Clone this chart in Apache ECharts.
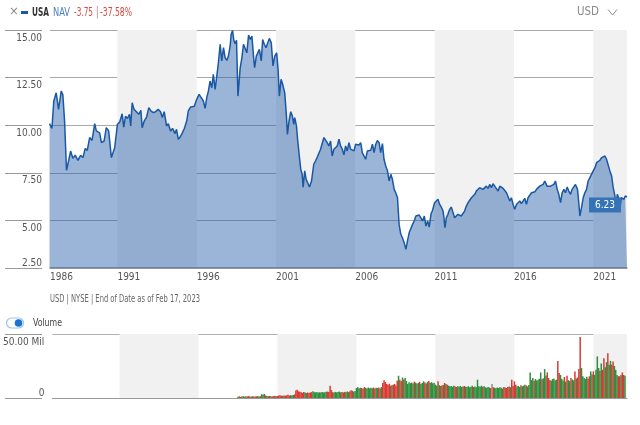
<!DOCTYPE html>
<html><head><meta charset="utf-8">
<script src="https://cdn.jsdelivr.net/npm/echarts@6/dist/echarts.min.js"></script>
<style>html,body{margin:0;padding:0;background:#fff}#c{width:640px;height:425px}</style>
</head><body><div id="c"></div>
<script>
// ---------- DATA ----------
const navYears = [
1986.72,1986.87,1986.99,1987.14,1987.29,1987.46,1987.56,1987.67,1987.79,1987.92,
1988.05,1988.19,1988.34,1988.51,1988.68,1988.83,1988.97,1989.10,1989.25,1989.40,
1989.57,1989.67,1989.78,1989.88,1989.99,1990.16,1990.30,1990.45,1990.62,1990.73,
1990.83,1991.00,1991.15,1991.30,1991.40,1991.51,1991.63,1991.76,1991.84,1991.93,
1992.05,1992.20,1992.35,1992.48,1992.56,1992.69,1992.84,1992.98,1993.11,1993.26,
1993.41,1993.57,1993.72,1993.83,1993.95,1994.10,1994.21,1994.35,1994.48,1994.63,
1994.73,1994.84,1994.95,1995.05,1995.22,1995.37,1995.47,1995.62,1995.73,1995.85,
1996.00,1996.15,1996.27,1996.42,1996.53,1996.63,1996.74,1996.84,1996.95,1997.05,
1997.16,1997.27,1997.37,1997.48,1997.58,1997.69,1997.79,1997.90,1998.00,1998.11,
1998.17,1998.26,1998.34,1998.43,1998.51,1998.60,1998.74,1998.85,1998.95,1999.06,
1999.16,1999.27,1999.38,1999.48,1999.59,1999.65,1999.76,1999.86,1999.95,2000.07,
2000.16,2000.26,2000.37,2000.45,2000.58,2000.70,2000.81,2000.92,2001.04,2001.13,
2001.21,2001.32,2001.42,2001.55,2001.65,2001.72,2001.82,2001.93,2002.03,2002.12,
2002.18,2002.29,2002.37,2002.48,2002.56,2002.65,2002.71,2002.81,2002.90,2002.98,
2003.11,2003.24,2003.38,2003.49,2003.59,2003.70,2003.81,2003.91,2004.02,2004.12,
2004.23,2004.33,2004.44,2004.54,2004.65,2004.76,2004.86,2004.97,2005.07,2005.18,
2005.28,2005.39,2005.49,2005.60,2005.70,2005.81,2005.92,2006.02,2006.13,2006.23,
2006.34,2006.44,2006.55,2006.65,2006.76,2006.86,2006.97,2007.08,2007.18,2007.29,
2007.39,2007.50,2007.60,2007.71,2007.81,2007.92,2008.03,2008.13,2008.24,2008.34,
2008.45,2008.55,2008.66,2008.76,2008.87,2008.97,2009.08,2009.19,2009.29,2009.40,
2009.50,2009.61,2009.71,2009.82,2009.92,2010.03,2010.14,2010.24,2010.35,2010.45,
2010.56,2010.66,2010.77,2010.87,2011.00,2011.11,2011.21,2011.32,2011.42,2011.53,
2011.59,2011.65,2011.74,2011.84,2011.95,2012.05,2012.16,2012.26,2012.37,2012.47,
2012.58,2012.68,2012.79,2012.89,2013.00,2013.11,2013.21,2013.32,2013.42,2013.53,
2013.63,2013.74,2013.84,2013.95,2014.05,2014.16,2014.26,2014.37,2014.47,2014.58,
2014.68,2014.79,2014.89,2015.00,2015.11,2015.21,2015.32,2015.42,2015.53,2015.63,
2015.74,2015.84,2015.95,2016.05,2016.16,2016.26,2016.37,2016.47,2016.58,2016.68,
2016.79,2016.89,2017.00,2017.11,2017.21,2017.32,2017.42,2017.53,2017.63,2017.74,
2017.84,2017.95,2018.01,2018.09,2018.20,2018.31,2018.41,2018.52,2018.62,2018.73,
2018.83,2018.94,2019.04,2019.15,2019.25,2019.36,2019.46,2019.57,2019.67,2019.78,
2019.88,2019.95,2020.01,2020.07,2020.16,2020.26,2020.37,2020.47,2020.58,2020.68,
2020.79,2020.89,2021.00,2021.11,2021.21,2021.32,2021.42,2021.53,2021.63,2021.74,
2021.84,2021.95,2022.05,2022.16,2022.26,2022.37,2022.43,2022.52,2022.60,2022.68,
2022.77,2022.85,2022.94,2023.02,2023.13
];
const navValues = [
10.08,9.83,11.27,11.70,10.83,11.80,11.60,10.20,7.63,8.12,
8.64,8.26,8.43,8.15,8.42,8.30,8.78,8.68,9.35,9.20,
10.08,9.70,9.78,9.60,9.08,9.17,9.87,9.70,8.30,8.26,
8.82,10.04,10.18,10.60,9.90,10.47,10.35,10.57,9.96,11.18,
10.83,10.71,10.57,10.78,9.87,10.22,10.43,10.92,10.75,10.66,
10.71,10.83,10.71,10.40,10.71,9.96,10.08,9.70,9.83,9.56,
9.78,9.26,9.38,9.52,9.83,10.22,10.75,10.96,11.06,11.00,
11.36,11.62,11.58,11.27,10.88,11.44,11.80,12.32,11.97,12.67,
11.88,12.60,13.30,14.25,13.38,14.08,13.55,13.40,13.63,14.16,
14.77,14.98,14.46,14.28,14.46,11.53,13.00,13.55,14.25,14.16,
13.80,14.73,14.50,14.68,13.55,13.02,13.63,13.55,13.98,13.38,
14.50,14.25,14.07,14.16,14.56,14.33,13.11,13.63,13.80,12.93,
11.53,12.41,12.15,11.70,10.57,9.52,10.22,10.71,10.48,10.04,
10.40,9.96,9.17,8.30,7.68,7.42,6.75,7.60,7.16,7.25,
6.75,7.07,7.95,8.12,8.30,8.21,8.74,8.68,9.35,9.26,
9.08,8.91,9.17,8.38,8.74,8.82,8.91,9.26,8.91,8.74,
8.44,8.91,8.65,9.08,8.74,8.82,8.65,9.00,9.08,8.96,
9.08,8.56,8.38,8.21,8.65,8.74,8.68,9.00,8.56,9.00,
9.20,9.08,8.56,9.03,8.21,7.86,7.60,7.07,7.42,7.16,
6.63,6.45,6.19,4.79,4.27,4.09,3.83,3.48,3.92,4.36,
4.44,4.79,4.97,5.23,5.14,5.28,5.35,4.97,5.23,4.70,
4.97,4.65,5.32,5.53,5.93,6.02,6.11,5.84,5.70,5.49,
5.14,4.62,5.14,5.32,5.58,5.70,5.67,5.14,5.23,5.32,
5.40,5.23,5.32,5.49,5.75,5.93,6.02,6.19,6.11,6.37,
6.54,6.45,6.72,6.75,6.63,6.72,6.80,6.68,6.89,6.72,
6.93,6.80,6.85,6.54,6.80,6.72,6.68,6.63,6.45,6.37,
6.02,6.19,5.84,5.58,5.84,5.93,6.02,5.88,6.02,6.16,
5.84,6.19,6.23,6.45,6.54,6.50,6.63,6.58,6.80,6.72,
6.89,7.07,7.16,6.80,6.72,6.80,6.75,6.89,7.07,6.63,
6.37,5.93,6.45,6.63,6.45,6.75,6.54,6.37,6.63,6.54,
6.89,6.98,6.63,6.11,5.23,5.67,6.19,6.45,6.63,7.07,
7.25,7.33,7.60,7.77,8.03,8.12,8.16,8.30,8.26,8.38,
8.21,8.12,7.60,7.33,6.72,6.28,5.75,6.37,6.19,5.58,
6.19,6.28,6.11,6.28,6.23
];

// monthly volume (millions), starting Jul 1998
const volStartYear = 1998, volStartMonth = 7;
const volValues = [
1.0,1.3,0.8,1.1,1.4,1.0,
1.3,1.1,1.5,1.2,1.0,1.4,1.2,1.1,1.3,1.5,1.2,1.4,
3.0,2.6,3.2,2.0,1.6,1.4,1.6,1.3,1.2,1.5,1.7,1.4,
1.6,1.9,2.2,1.8,1.7,2.0,1.8,2.1,2.6,1.9,2.2,2.0,
2.4,2.8,5.8,6.5,5.2,4.8,4.4,4.0,4.6,4.2,3.9,4.3,
4.0,4.3,4.6,5.2,4.5,4.4,4.7,4.2,4.5,4.3,4.6,4.4,
4.5,4.8,5.0,4.6,9.6,6.2,4.5,4.2,4.8,4.4,4.6,5.0,
4.4,4.7,4.3,4.8,4.5,5.0,4.6,5.2,6.0,5.6,4.8,5.4,
7.8,8.4,7.6,8.0,7.8,7.2,8.6,7.9,7.5,8.2,7.6,8.0,
7.6,8.2,7.4,8.0,7.8,8.3,7.5,8.6,11.8,13.8,12.5,11.0,
10.4,11.2,9.6,10.0,10.4,11.0,9.8,13.4,17.4,14.3,13.0,16.0,
14.5,15.6,13.2,11.0,12.4,11.6,12.0,11.4,12.8,12.0,11.2,11.8,
12.6,11.0,11.8,13.0,12.2,11.4,12.6,13.2,11.8,12.4,11.6,12.0,
10.4,9.6,13.0,10.0,9.4,9.8,10.2,11.7,11.0,10.4,9.6,9.2,
9.4,8.8,9.6,9.0,8.6,9.2,8.8,9.4,8.6,9.0,9.4,8.8,
8.6,9.2,8.4,8.8,9.6,8.6,9.0,8.4,14.3,9.2,8.8,9.6,
8.8,9.2,8.4,8.0,8.6,8.2,7.8,11.0,8.4,8.0,7.6,8.2,
7.8,8.4,8.0,7.4,8.6,8.2,7.8,8.6,9.0,8.4,14.3,9.4,
13.0,10.4,9.0,9.4,8.6,10.0,9.2,9.6,10.4,9.8,9.0,10.2,
20.0,14.0,15.6,13.4,14.8,13.6,14.2,15.0,20.0,14.6,15.4,22.6,
17.6,20.0,15.6,14.0,13.4,14.8,15.2,13.8,14.4,29.0,19.5,18.0,
15.0,13.6,16.4,12.8,17.4,14.0,13.2,15.6,14.4,13.8,20.8,15.2,
16.0,22.6,47.6,23.4,17.0,15.6,14.8,16.6,15.0,17.0,20.8,18.4,
20.8,18.0,22.0,32.5,23.4,21.0,27.0,22.0,31.0,24.0,28.0,35.0,
26.0,29.0,26.0,28.6,25.0,22.0,18.0,17.0,17.0,18.0,20.0,18.0,
17.4
];
// u = up (green), d = down (red), n = unchanged (grey); one string per year
const volDirs = [
'dudduu','udduddudduud','uuududduddud','dddduddddduu','udddddddduud',
'ddduuuuuuuuu','uuddddduuuuu','dudduuuddduu','uuuuddduuuuu','udduuddudddd',
'dddudddduddu','duuuuuuuduuu','duuudduduuuu','uudududduduu','uuudduuuudud',
'uuuuuduuuuuu','duuuuudnduuu','uuududdddudd','dduuuduuuduu','uuuduuuuuduu',
'uddduuuuuddu','uududuuduudu','ddduuuuudduu','duuuududduud','uudduuuddudd','u'
];

const xMin = 1986.75, xMax = 2023.13;
const xLabelValues = [1986.75, 1991, 1996, 2001, 2006, 2011, 2016, 2021];
const bandRanges = [[1991, 1996], [2001, 2006], [2011, 2016], [2021, 2023.13]];
const priceTicks = {min: 2.5, max: 15, interval: 2.5};
const volTicks = {min: 0, max: 50, interval: 50};
const headerTicker = 'USA', headerField = 'NAV', headerChange = '-3.75', headerPct = '-37.58%';
const footnote = 'USD | NYSE | End of Date as of Feb 17, 2023';

// ---------- FONT PICK ----------
const ctx = document.createElement('canvas').getContext('2d');
function hasFont(f) {
  const s = 'USD | NYSE | End of Date 0123456789 Mil';
  ctx.font = '20px monospace'; const a = ctx.measureText(s).width;
  ctx.font = "20px '" + f + "', monospace"; const b = ctx.measureText(s).width;
  return Math.abs(a - b) > 0.5;
}
const fontCandidates = ['Liberation Sans Narrow', 'DejaVu Sans Condensed', 'Roboto Condensed', 'Arial Narrow', 'Roboto'];
const chosen = fontCandidates.find(hasFont) || 'Roboto';
const FONT = "'" + chosen + "', Roboto, sans-serif";
function fit(text, font, w) {
  ctx.font = font; const m = ctx.measureText(text).width;
  return Math.min(1, w / m);
}
function txt(text, x, y, w, font, fill) {
  return {type: 'text', x: x, y: y, scaleX: w ? fit(text, font, w) : 1,
    style: {text: text, font: font, fill: fill, align: 'left', verticalAlign: 'middle'}};
}

// ---------- CHART ----------
const navData = navYears.map((y, i) => [y, navValues[i]]);
const dirs = volDirs.join('').split('');
const dirColor = {u: '#2f8f3e', d: '#d83a34', n: '#8c8c8c'};
const volData = volValues.map((v, i) => {
  const m = volStartMonth - 1 + i;
  return {value: [volStartYear + m / 12, v], itemStyle: {color: dirColor[dirs[i]]}};
});
const bandData = bandRanges.map(r => [{xAxis: r[0]}, {xAxis: r[1]}]);
const lastIdx = navYears.length - 1;

const chart = echarts.init(document.getElementById('c'), null, {renderer: 'canvas'});
const xBase = {type: 'value', min: xMin, max: xMax, splitLine: {show: false}, axisTick: {show: false}, z: 1};
const hf = '12px ' + FONT, hb = 'bold 12px ' + FONT;
const option = {
  animation: false,
  textStyle: {fontFamily: FONT},
  grid: [
    {left: 50, right: 13, top: 30, height: 238},
    {left: 50, right: 13, top: 334, height: 64},
    {left: 5, width: 37, top: 30, height: 238},
    {left: 5, width: 37, top: 334, height: 64}
  ],
  xAxis: [
    Object.assign({}, xBase, {gridIndex: 0,
      axisLine: {show: true, lineStyle: {color: '#8a8f96', width: 1.5}},
      axisLabel: {customValues: xLabelValues, formatter: v => String(Math.floor(v + 0.001)),
        align: 'left', margin: 4, color: '#555', fontSize: 10, fontFamily: FONT}}),
    Object.assign({}, xBase, {gridIndex: 1,
      axisLine: {show: true, lineStyle: {color: '#999', width: 1}}, axisLabel: {show: false}}),
    {gridIndex: 2, type: 'value', min: 0, max: 1, show: false},
    {gridIndex: 3, type: 'value', min: 0, max: 1, show: false}
  ],
  yAxis: [
    Object.assign({gridIndex: 0, type: 'value', z: 1, axisLine: {show: false}, axisTick: {show: false},
      splitLine: {lineStyle: {color: '#a9a9a9'}},
      axisLabel: {formatter: v => v.toFixed(2), color: '#555', fontSize: 10, margin: 8, fontFamily: FONT,
        verticalAlign: 'top', verticalAlignMinLabel: 'bottom', padding: [3, 0, 0, 0]}}, priceTicks),
    Object.assign({gridIndex: 1, type: 'value', z: 1, axisLine: {show: false}, axisTick: {show: false},
      splitLine: {lineStyle: {color: '#b0b0b0'}},
      axisLabel: {formatter: v => v === 0 ? '0' : v.toFixed(2) + ' Mil', color: '#555', fontSize: 10, margin: 8,
        fontFamily: FONT, verticalAlign: 'top', verticalAlignMinLabel: 'bottom', padding: [3, 0, 0, 0]}}, volTicks),
    Object.assign({gridIndex: 2, type: 'value', axisLine: {show: false}, axisTick: {show: false}, axisLabel: {show: false},
      splitLine: {lineStyle: {color: '#999'}}}, priceTicks),
    Object.assign({gridIndex: 3, type: 'value', axisLine: {show: false}, axisTick: {show: false}, axisLabel: {show: false},
      splitLine: {lineStyle: {color: '#999'}}}, volTicks)
  ],
  series: [
    {type: 'line', xAxisIndex: 0, yAxisIndex: 0, data: [], z: 0, silent: true,
      markArea: {silent: true, itemStyle: {color: '#f1f1f1'}, data: bandData}},
    {type: 'line', xAxisIndex: 1, yAxisIndex: 1, data: [], z: 0, silent: true,
      markArea: {silent: true, itemStyle: {color: '#f1f1f1'}, data: bandData}},
    {type: 'line', name: 'NAV', xAxisIndex: 0, yAxisIndex: 0, data: navData, z: 2,
      showSymbol: false, symbol: 'none',
      lineStyle: {color: '#1b58a3', width: 1.5},
      areaStyle: {color: 'rgba(31,92,166,0.45)', opacity: 1, origin: 'start'},
      markPoint: {silent: true, symbol: 'rect', symbolSize: [32, 15], symbolOffset: [-22, 8],
        itemStyle: {color: '#3672b6'},
        label: {show: true, position: 'inside', color: '#fff', fontSize: 10, fontFamily: FONT,
          formatter: p => Number(p.value).toFixed(2)},
        data: [{coord: [navYears[lastIdx], navValues[lastIdx]], value: navValues[lastIdx]}]}},
    {type: 'bar', name: 'Volume', xAxisIndex: 1, yAxisIndex: 1, data: volData, z: 2, barWidth: 1.5}
  ],
  graphic: [
    txt('×', 9, 12, 0, '13px ' + FONT, '#888'),
    {type: 'line', shape: {x1: 21, y1: 12.5, x2: 28, y2: 12.5}, style: {stroke: '#1b58a3', lineWidth: 3}},
    txt(headerTicker, 32, 12.5, 17, hb, '#333'),
    txt(headerField, 53, 12.5, 17, hf, '#4a7fc0'),
    txt(headerChange, 74, 12.5, 19, hf, '#d9483f'),
    txt('|', 95.5, 12.5, 0, hf, '#c8a090'),
    txt(headerPct, 100, 12.5, 32, hf, '#d9483f'),
    txt('USD', 577, 12, 22, '13px ' + FONT, '#8a8a8a'),
    {type: 'polyline', shape: {points: [[608, 9.5], [612.5, 15], [617, 9.5]]}, style: {stroke: '#8a8a8a', lineWidth: 1, fill: null}},
    txt(footnote, 50, 299, 150, '10px ' + FONT, '#666'),
    {type: 'rect', shape: {x: 6.5, y: 318, width: 17, height: 10, r: 5}, style: {fill: '#fff', stroke: '#9fc4ee', lineWidth: 1.2}},
    {type: 'circle', shape: {cx: 18.5, cy: 323, r: 3.8}, style: {fill: '#1a73d1'}},
    txt('Volume', 33, 323, 29, '11px ' + FONT, '#444')
  ]
};
chart.setOption(option);
</script>
</body></html>
